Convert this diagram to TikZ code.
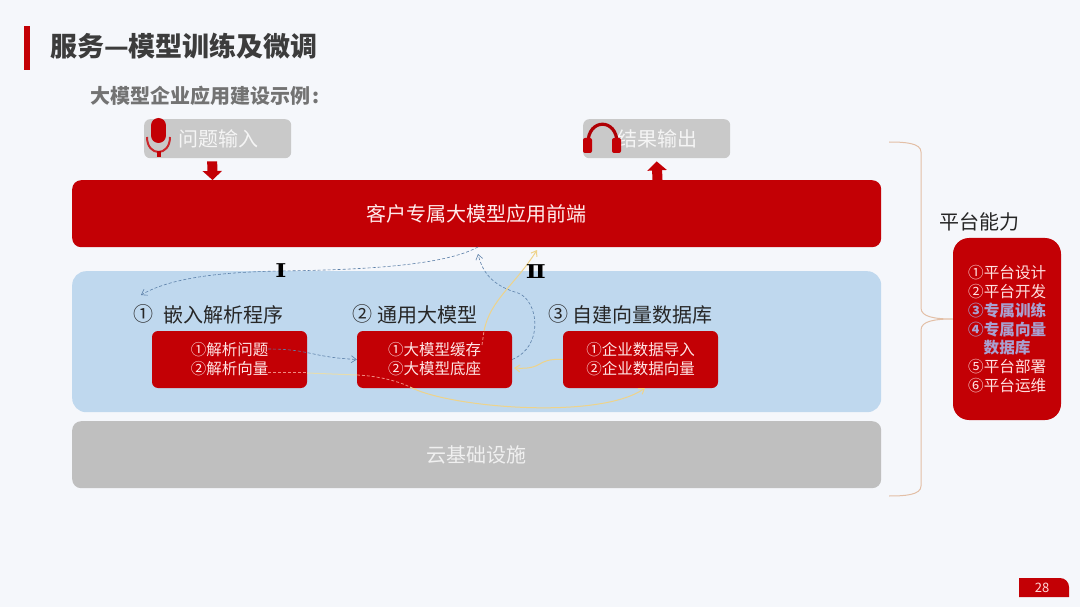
\documentclass[tikz,border=0pt]{standalone}
\usepackage{fontspec}
\setmainfont{Noto Sans CJK SC}
\newfontfamily\numfont{DejaVu Serif}
\usetikzlibrary{arrows.meta,calc}
\definecolor{bgc}{HTML}{F5F7FB}
\definecolor{redc}{HTML}{C30005}
\definecolor{bluep}{HTML}{BFD8EE}
\definecolor{grayb}{HTML}{BFBFBF}
\definecolor{graysm}{HTML}{C9C9C9}
\definecolor{inkc}{HTML}{262626}
\definecolor{dashb}{HTML}{5B7FA8}
\definecolor{paley}{HTML}{E6DDB0}
\definecolor{ambery}{HTML}{F2CF7A}
\definecolor{dashr}{HTML}{F08A80}
\definecolor{bracec}{HTML}{E3BFA6}
\definecolor{lilac}{HTML}{A9A0D0}
\tikzset{
  fs/.style={font=\fontsize{#1}{#1}\selectfont},
  redbox/.style={fill=redc,rounded corners=6pt,inner sep=0pt,text=white!90!red,align=center,text width=140pt,fs=15.5},
  head/.style={anchor=west,inner sep=0pt,text=inkc,fs=20},
  bigbar/.style={rounded corners=9pt,inner sep=0pt,anchor=north west,fs=20},
  smallgray/.style={fill=graysm,rounded corners=6pt,minimum width=147pt,minimum height=39pt,inner sep=0pt,anchor=north west},
  bluedash/.style={draw=dashb,densely dashed,line width=.6pt,-{Straight Barb[length=5pt,width=7pt]}},
  pale/.style={draw=paley,line width=1pt},
  reddash/.style={draw=dashr,densely dashed,line width=.8pt},
  blockarrow/.style={draw=redc,line width=10pt,-{Triangle[length=9pt,width=19pt]}},
  numeral/.style={inner sep=0pt,text=black,xscale=1.25,font=\numfont\bfseries\fontsize{19}{19}\selectfont},
}
\begin{document}
\begin{tikzpicture}[x=1pt,y=-1pt]
\useasboundingbox (0,0) rectangle (1080,607);
\fill[bgc] (0,0) rectangle (1080,607);

% title
\fill[redc] (24,26) rectangle (30,70);
\node[anchor=west,inner sep=0pt,text=inkc!90!white,font=\bfseries\fontsize{27}{27}\selectfont] (title) at (50,46) {服务—模型训练及微调};
\node[anchor=west,inner sep=0pt,text=black!55,font=\bfseries\fontsize{20}{20}\selectfont] (subtitle) at (90,96) {大模型企业应用建设示例\kern2pt:};

% top boxes
\node[smallgray] (inbox) at (144,119) {};
\node[smallgray] (outbox) at (583,119) {};
\node[inner sep=0pt,text=white!92!gray,fs=20] (intext) at (218,138.5) {问题输入};
\node[inner sep=0pt,text=white!92!gray,fs=20] (outtext) at (657,138.5) {结果输出};

% microphone
\draw[redc!85!white,line width=2pt] (147,137) .. controls (147,157) and (170,157) .. (170,137);
\draw[redc,line width=15pt,line cap=round] (158.5,125.5) -- (158.5,135.5);
\fill[redc] (156.5,151) rectangle (160.5,157);

% headphones
\draw[redc!90!black,line width=3.2pt] (588,143) .. controls (588,118) and (617,118) .. (617,143);
\fill[redc,rounded corners=2pt] (583,138) rectangle (592,153);
\fill[redc,rounded corners=2pt] (612,138) rectangle (621,153);

% main bars
\node[bigbar,fill=redc,minimum width=809pt,minimum height=67pt,text=white!92!red] (front) at (72,180) {客户专属大模型应用前端};
\node[bigbar,fill=bluep,minimum width=809pt,minimum height=141pt,rounded corners=14pt] (panel) at (72,271) {};
\node[bigbar,fill=grayb,minimum width=809pt,minimum height=67pt,text=white!88!gray] (cloud) at (72,421) {云基础设施};

% block arrows
\coordinate (inA) at ($(inbox.south)+(-5.5,3)$);
\coordinate (inB) at (212.5,180);
\draw[blockarrow] (inA) -- (inB);
\coordinate (outA) at (657.5,180);
\coordinate (outB) at ($(outbox.south)+(0,3)$);
\draw[blockarrow] (outA) -- (outB);

% headings
\node[head] (h1n) at (133,314) {①};
\node[head] (h1) at (163,314.5) {嵌入解析程序};
\node[head] (h2n) at (352,314) {②};
\node[head] (h2) at (377,314.5) {通用大模型};
\node[head] (h3n) at (548,314) {③};
\node[head] (h3) at (572,314.5) {自建向量数据库};

% red boxes
\node[redbox,minimum width=155pt,minimum height=57pt] (b1) at (229.5,359.5) {①解析问题\\[3.5pt]②解析向量};
\node[redbox,minimum width=155pt,minimum height=57pt] (b2) at (434.5,359.5) {①大模型缓存\\[3.5pt]②大模型底座};
\node[redbox,minimum width=155pt,minimum height=57pt] (b3) at (640.5,359.5) {①企业数据导入\\[3.5pt]②企业数据向量};

% connectors
\coordinate (pI) at (281,271);
\coordinate (pIend) at (141,295);
\coordinate (frontA) at (478,247);
\draw[bluedash] (frontA) .. controls (440,268) and (340,270) .. (pI) .. controls (220,272) and (170,278) .. (pIend);
\coordinate (q1) at (268,349);
\draw[bluedash] (q1) .. controls (310,349) and (310,357) .. (b2.west);
\coordinate (frontB) at (478,254);
\draw[bluedash] (b2.east) .. controls (545,346) and (538,300) .. (518,293) .. controls (490,285) and (482,270) .. (frontB);

\coordinate (q2) at (268,372);
\coordinate (q3) at (410,387);
\coordinate (yTop) at (537,250);
\coordinate (ySt) at (484,331);
\coordinate (yIn) at (482,345);
\draw[pale,draw=ambery!70!paley,-{Straight Barb[length=5pt,width=7pt]}] (ySt) .. controls (490,300) and (515,285) .. (yTop);
\draw[reddash] (yIn) -- (ySt);
\draw[pale,draw=ambery!70!paley,-{Straight Barb[length=5pt,width=7pt]}] (b3.west) .. controls (535,358) and (545,370) .. (514,368);
\draw[reddash] (q2) -- (b1.east |- q2);
\draw[pale] (b1.east |- 0,373) -- (b2.west |- 0,375);
\draw[reddash] (b2.west |- 0,375) .. controls (380,376) and (400,382) .. (q3);
\draw[pale,draw=ambery!70!paley,-{Straight Barb[length=5pt,width=7pt]}] (q3) .. controls (450,408) and (600,420) .. (645,388);

% numerals
\node[numeral] (n1) at (281,271) {Ⅰ};
\node[numeral] (n2) at (536,272) {Ⅱ};

% platform
\node[inner sep=0pt,text=inkc,fs=20] (pt) at (979,222) {平台能力};
\node[fill=redc,rounded corners=16pt,minimum width=108pt,minimum height=182pt,inner sep=0pt] (plat) at (1007,329) {};
\begin{scope}[every node/.style={inner sep=0pt,anchor=west,fs=15.6,text=white!88!red}]
\node (p1) at (968,273) {①平台设计};
\node (p2) at (968,292) {②平台开发};
\node[text=lilac,font=\bfseries\fontsize{15.6}{15.6}\selectfont] (p3) at (968,311) {③专属训练};
\node[text=lilac,font=\bfseries\fontsize{15.6}{15.6}\selectfont] (p4) at (968,330) {④专属向量};
\node[text=lilac,font=\bfseries\fontsize{15.6}{15.6}\selectfont] (p4b) at (983.5,348) {数据库};
\node (p5) at (968,367) {⑤平台部署};
\node (p6) at (968,386) {⑥平台运维};
\end{scope}

% brace
\coordinate (brT) at (889,142);
\coordinate (brB) at (889,496);
\draw[bracec,line width=1pt] (brT) .. controls (905,142) and (921,143) .. (921,152) -- (921,308) .. controls (921,317) and (935,319) .. (plat.west |- 0,319) .. controls (935,319) and (921,321) .. (921,330) -- (921,486) .. controls (921,495) and (905,496) .. (brB);

% page tag
\fill[redc] (1019,578) -- (1060,578) .. controls (1065,578) and (1069,582) .. (1069,587) -- (1069,597) -- (1019,597) -- cycle;
\node[inner sep=0pt,text=white!85!red,font=\fontsize{13}{13}\selectfont] (page) at (1042,587.5) {28};
\end{tikzpicture}
\end{document}
